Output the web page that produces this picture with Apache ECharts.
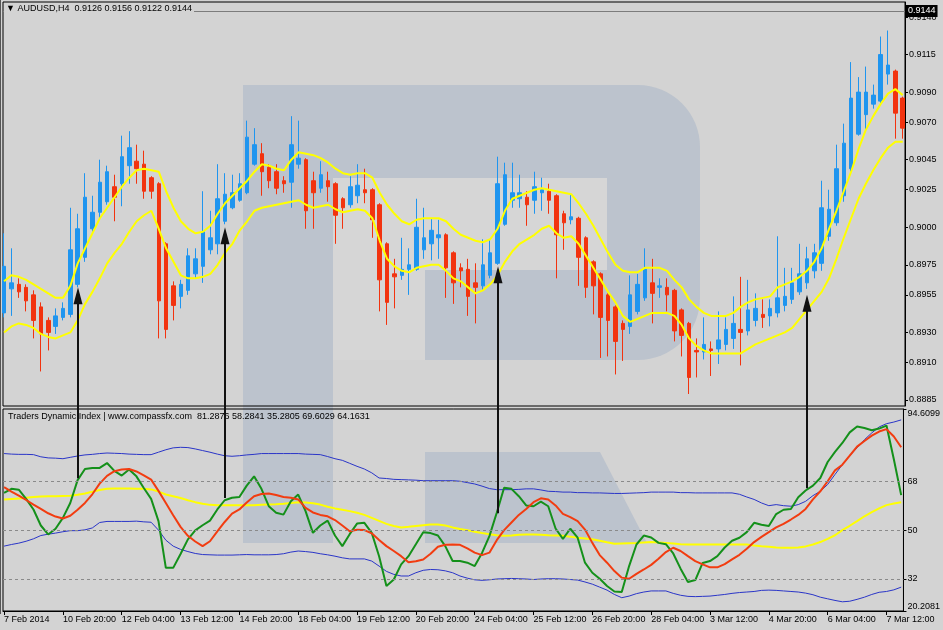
<!DOCTYPE html>
<html>
<head>
<meta charset="utf-8">
<script src="https://cdn.jsdelivr.net/npm/echarts@6/dist/echarts.min.js"></script>
<style>
  html, body { margin: 0; padding: 0; background: #d3d3d3; }
  #main { width: 943px; height: 630px; }
</style>
</head>
<body>
<div id="main"></div>
<script>
// AUDUSD H4 candles, bar 0 = 7 Feb 2014 12:00
const open = [
  0.8943, 0.8959, 0.8962, 0.8960, 0.8955, 0.8947, 0.8938, 0.8934, 0.8940, 0.8942,
  0.8962, 0.8980, 0.8999, 0.9010, 0.9017, 0.9027, 0.9029, 0.9041, 0.9044, 0.9042,
  0.9033, 0.9029, 0.8989, 0.8961, 0.8954, 0.8958, 0.8969, 0.8974, 0.8985, 0.8989,
  0.9004, 0.9013, 0.9018, 0.9023, 0.9042, 0.9049, 0.9040, 0.9037, 0.9031, 0.9030,
  0.9042, 0.9045, 0.9031, 0.9026, 0.9031, 0.9029, 0.9019, 0.9015, 0.9021, 0.9025,
  0.9025, 0.9015, 0.8989, 0.8969, 0.8968, 0.8972, 0.8972, 0.8985, 0.8989, 0.8993,
  0.8995, 0.8983, 0.8973, 0.8972, 0.8963, 0.8961, 0.8968, 0.8976, 0.9002, 0.9018,
  0.9019, 0.9020, 0.9018, 0.9023, 0.9024, 0.9021, 0.9009, 0.9005, 0.9006, 0.8993,
  0.8977, 0.8969, 0.8955, 0.8947, 0.8936, 0.8934, 0.8944, 0.8953, 0.8963, 0.8960,
  0.8960, 0.8958, 0.8945, 0.8936, 0.8918, 0.8917, 0.8919, 0.8919, 0.8922, 0.8926,
  0.8932, 0.8931, 0.8938, 0.8942, 0.8941, 0.8943, 0.8948, 0.8952, 0.8957, 0.8963,
  0.8971, 0.8976, 0.8994, 0.9003, 0.9021, 0.9039, 0.9062, 0.9075, 0.9082, 0.9084,
  0.9102, 0.9104, 0.9086
];
const high = [
  0.8996, 0.8986, 0.8966, 0.8962, 0.8958, 0.8950, 0.8940, 0.8946, 0.8950, 0.9013,
  0.9009, 0.9036, 0.9021, 0.9045, 0.9041, 0.9035, 0.9061, 0.9064, 0.9055, 0.9051,
  0.9034, 0.9030, 0.8990, 0.8964, 0.8965, 0.8986, 0.8986, 0.9024, 0.9011, 0.9042,
  0.9036, 0.9035, 0.9036, 0.9071, 0.9066, 0.9056, 0.9042, 0.9042, 0.9034, 0.9074,
  0.9071, 0.9046, 0.9037, 0.9044, 0.9037, 0.9030, 0.9020, 0.9034, 0.9042, 0.9039,
  0.9026, 0.9016, 0.8990, 0.8979, 0.8993, 0.8986, 0.9019, 0.9013, 0.9006, 0.9005,
  0.8996, 0.8984, 0.8976, 0.8979, 0.8976, 0.8992, 0.8992, 0.9047, 0.9043, 0.9043,
  0.9035, 0.9024, 0.9037, 0.9033, 0.9029, 0.9022, 0.9011, 0.9022, 0.9007, 0.8994,
  0.8978, 0.8970, 0.8956, 0.8948, 0.8938, 0.8968, 0.8969, 0.8986, 0.8979, 0.8966,
  0.8966, 0.8959, 0.8946, 0.8937, 0.8926, 0.8940, 0.8924, 0.8944, 0.8940, 0.8954,
  0.8967, 0.8965, 0.8956, 0.8952, 0.8952, 0.8994, 0.8973, 0.8973, 0.8989, 0.8987,
  0.8989, 0.9031, 0.9025, 0.9055, 0.9069, 0.9110, 0.9100, 0.9107, 0.9095, 0.9127,
  0.9131, 0.9105, 0.9087
];
const low = [
  0.8940, 0.8941, 0.8953, 0.8944, 0.8926, 0.8904, 0.8918, 0.8929, 0.8938, 0.8940,
  0.8960, 0.8977, 0.8997, 0.9006, 0.9015, 0.9004, 0.9014, 0.9029, 0.9029, 0.9019,
  0.9019, 0.8926, 0.8926, 0.8938, 0.8946, 0.8955, 0.8966, 0.8963, 0.8982, 0.8982,
  0.9002, 0.9012, 0.9017, 0.9022, 0.9041, 0.9021, 0.9026, 0.9022, 0.9023, 0.9013,
  0.9039, 0.8999, 0.8999, 0.9023, 0.9017, 0.8989, 0.8999, 0.9013, 0.9016, 0.9016,
  0.8993, 0.8944, 0.8935, 0.8946, 0.8965, 0.8955, 0.8971, 0.8979, 0.8978, 0.8979,
  0.8953, 0.8949, 0.8960, 0.8941, 0.8936, 0.8958, 0.8966, 0.8975, 0.9001, 0.9013,
  0.9013, 0.9001, 0.9009, 0.9011, 0.9009, 0.8966, 0.8985, 0.9002, 0.8961, 0.8953,
  0.8942, 0.8913, 0.8914, 0.8902, 0.8911, 0.8929, 0.8942, 0.8951, 0.8936, 0.8953,
  0.8944, 0.8924, 0.8914, 0.8889, 0.8900, 0.8912, 0.8901, 0.8909, 0.8918, 0.8919,
  0.8908, 0.8928, 0.8934, 0.8933, 0.8934, 0.8940, 0.8944, 0.8949, 0.8955, 0.8959,
  0.8966, 0.8971, 0.8991, 0.9001, 0.9017, 0.9035, 0.9061, 0.9065, 0.9079, 0.9082,
  0.9095, 0.9059, 0.9059
];
const close = [
  0.8974, 0.8963, 0.8957, 0.8951, 0.8938, 0.8929, 0.8930, 0.8941, 0.8946, 0.8985,
  0.8999, 0.9020, 0.9010, 0.9030, 0.9037, 0.9020, 0.9047, 0.9053, 0.9039, 0.9024,
  0.9024, 0.8951, 0.8932, 0.8948, 0.8962, 0.8981, 0.8979, 0.8997, 0.8993, 0.9019,
  0.9022, 0.9023, 0.9029, 0.9060, 0.9055, 0.9037, 0.9031, 0.9026, 0.9029, 0.9055,
  0.9046, 0.9011, 0.9023, 0.9035, 0.9027, 0.9008, 0.9013, 0.9027, 0.9028, 0.9023,
  0.9005, 0.8965, 0.8950, 0.8967, 0.8972, 0.8975, 0.9000, 0.8993, 0.8998, 0.8995,
  0.8973, 0.8963, 0.8971, 0.8954, 0.8960, 0.8975, 0.8983, 0.9029, 0.9035, 0.9023,
  0.9023, 0.9015, 0.9027, 0.9025, 0.9018, 0.8995, 0.9003, 0.9007, 0.8980, 0.8960,
  0.8961, 0.8940, 0.8938, 0.8924, 0.8932, 0.8955, 0.8962, 0.8972, 0.8956, 0.8961,
  0.8955, 0.8931, 0.8928, 0.8900, 0.8917, 0.8922, 0.8918, 0.8925, 0.8932, 0.8936,
  0.8930, 0.8945, 0.8946, 0.8940, 0.8946, 0.8953, 0.8954, 0.8963, 0.8969, 0.8979,
  0.8983, 0.9013, 0.9012, 0.9039, 0.9056, 0.9086, 0.9090, 0.9090, 0.9088, 0.9115,
  0.9108, 0.9076, 0.9066
];
// yellow channel on price
const bandUpper = [
  0.8964, 0.8968, 0.8967, 0.8965, 0.8962, 0.8959, 0.8956, 0.8953, 0.8953, 0.8961,
  0.8976, 0.8986, 0.8996, 0.9006, 0.9013, 0.9020, 0.9027, 0.9033, 0.9038, 0.9039,
  0.9038, 0.9037, 0.9024, 0.9013, 0.9004, 0.8999, 0.8996, 0.8997, 0.9001, 0.9009,
  0.9016, 0.9021, 0.9026, 0.9031, 0.9037, 0.9042, 0.9041, 0.9039, 0.9038, 0.9045,
  0.9050, 0.9049, 0.9048, 0.9046, 0.9043, 0.9039, 0.9036, 0.9035, 0.9036, 0.9036,
  0.9033, 0.9023, 0.9015, 0.9009, 0.9004, 0.9002, 0.9005, 0.9006, 0.9006, 0.9006,
  0.9004, 0.8999, 0.8995, 0.8993, 0.8991, 0.8990, 0.8992, 0.8999, 0.9011, 0.9019,
  0.9021, 0.9023, 0.9025, 0.9026, 0.9025, 0.9024, 0.9023, 0.9022, 0.9016, 0.9009,
  0.9001, 0.8992, 0.8983, 0.8975, 0.8971, 0.8970, 0.8970, 0.8973, 0.8973, 0.8973,
  0.8971, 0.8965, 0.8960, 0.8952, 0.8947, 0.8943, 0.8941, 0.8941, 0.8941, 0.8943,
  0.8947, 0.8950, 0.8952, 0.8953, 0.8954, 0.8960, 0.8962, 0.8964, 0.8967, 0.8971,
  0.8977, 0.8986, 0.8999, 0.9011, 0.9024, 0.9037, 0.9052, 0.9065, 0.9074, 0.9082,
  0.9089, 0.9092, 0.9088
];
const bandLower = [
  0.8930, 0.8934, 0.8936, 0.8935, 0.8933, 0.8929, 0.8927, 0.8926, 0.8928, 0.8930,
  0.8938, 0.8949, 0.8957, 0.8966, 0.8976, 0.8983, 0.8989, 0.8997, 0.9004, 0.9008,
  0.9011, 0.8999, 0.8986, 0.8977, 0.8968, 0.8966, 0.8966, 0.8967, 0.8969, 0.8975,
  0.8983, 0.8989, 0.8998, 0.9004, 0.9011, 0.9013, 0.9014, 0.9015, 0.9016, 0.9017,
  0.9018, 0.9015, 0.9013, 0.9014, 0.9015, 0.9012, 0.9010, 0.9011, 0.9012, 0.9011,
  0.9006, 0.8991, 0.8979, 0.8974, 0.8971, 0.8970, 0.8973, 0.8974, 0.8975, 0.8975,
  0.8971, 0.8966, 0.8964, 0.8960, 0.8956, 0.8958, 0.8962, 0.8968, 0.8977, 0.8984,
  0.8989, 0.8992, 0.8995, 0.8999, 0.9001, 0.8996, 0.8993, 0.8994, 0.8989, 0.8981,
  0.8973, 0.8965, 0.8957, 0.8950, 0.8941, 0.8937, 0.8939, 0.8941, 0.8943, 0.8943,
  0.8943, 0.8941, 0.8935, 0.8926, 0.8921, 0.8918, 0.8916, 0.8916, 0.8916, 0.8916,
  0.8916, 0.8919, 0.8922, 0.8924, 0.8926, 0.8928, 0.8930, 0.8933, 0.8939, 0.8945,
  0.8951, 0.8957, 0.8966, 0.8979, 0.8993, 0.9006, 0.9019, 0.9029, 0.9038, 0.9046,
  0.9053, 0.9057, 0.9057
];
// Traders Dynamic Index
const tdiUpper = [
  78.2, 78.0, 77.9, 77.9, 77.8, 77.0, 76.6, 76.5, 76.3, 76.8,
  77.3, 77.7, 77.9, 78.2, 78.4, 78.3, 78.2, 78.0, 77.9, 77.8,
  77.8, 78.7, 79.6, 80.3, 80.5, 80.4, 79.9, 79.3, 78.7, 78.0,
  77.4, 77.2, 77.4, 77.7, 77.9, 78.2, 78.2, 78.2, 78.2, 78.2,
  78.2, 78.0, 77.9, 77.8, 77.1, 76.3, 75.7, 74.6, 73.5, 72.5,
  71.1, 69.2, 69.0, 68.7, 68.6, 68.5, 68.4, 68.2, 68.2, 68.2,
  68.2, 68.2, 68.0, 67.5, 67.0, 66.2, 65.3, 64.9, 64.9, 64.9,
  65.0, 65.2, 65.2, 64.8, 64.3, 64.2, 64.0, 64.0, 63.8, 63.8,
  63.7, 63.7, 63.6, 63.5, 63.5, 63.6, 63.7, 63.8, 64.0, 64.0,
  64.0, 64.0, 63.8, 63.8, 63.7, 63.7, 63.7, 63.7, 63.7, 63.7,
  63.2, 62.2, 61.3, 60.0, 59.0, 59.4, 59.0, 58.8, 59.4, 60.6,
  62.7, 64.3, 66.8, 70.5, 74.1, 77.4, 80.3, 83.3, 85.8, 88.0,
  89.2, 89.8, 90.6
];
const tdiMiddle = [
  61.3, 61.5, 61.6, 61.9, 62.2, 62.4, 62.5, 62.5, 62.6, 62.7,
  63.0, 63.5, 64.1, 64.8, 65.2, 65.3, 65.3, 65.3, 65.2, 65.2,
  65.0, 64.2, 63.1, 62.5, 61.8, 61.0, 60.3, 59.7, 59.3, 59.2,
  59.2, 59.2, 59.2, 59.2, 59.2, 59.3, 59.4, 59.5, 59.7, 60.0,
  60.3, 60.2, 59.9, 59.4, 58.6, 58.0, 57.5, 57.0, 56.4, 55.6,
  54.5, 53.4, 52.3, 51.5, 51.0, 51.2, 51.5, 51.8, 52.1, 52.1,
  51.7, 51.0, 50.4, 50.0, 49.4, 48.9, 48.5, 48.1, 47.9, 48.0,
  48.3, 48.4, 48.4, 48.3, 48.1, 48.0, 47.9, 47.6, 47.2, 46.9,
  46.6, 46.1, 45.5, 45.0, 45.1, 45.2, 45.3, 45.45, 45.6, 45.45,
  45.3, 45.1, 44.8, 44.7, 44.7, 44.7, 44.7, 44.7, 44.7, 44.7,
  44.7, 44.7, 44.35, 44.1, 43.9, 43.6, 43.5, 43.5, 43.6, 44.0,
  44.7, 45.6, 46.8, 48.1, 50.0, 51.6, 53.3, 55.1, 56.6, 58.0,
  59.2, 59.8, 60.3
];
const tdiLower = [
  44.1, 44.7, 45.2, 45.9, 46.8, 48.0, 48.5, 48.9, 49.4, 49.8,
  49.8, 50.1, 50.8, 52.8, 53.2, 53.2, 53.2, 53.2, 53.3, 53.05,
  52.9, 50.0, 46.3, 44.1, 42.9, 42.1, 41.4, 41.0, 40.9, 40.8,
  40.8, 40.8, 40.9, 41.0, 40.9, 40.9, 40.9, 41.0, 41.3, 41.9,
  42.3, 42.1, 41.8, 41.3, 40.9, 40.4, 39.8, 39.4, 39.4, 39.4,
  38.6, 36.75, 34.8, 33.7, 33.1, 33.1, 34.3, 35.2, 35.5, 35.4,
  35.0, 34.3, 33.1, 32.3, 31.7, 31.5, 31.7, 32.0, 32.1, 32.2,
  32.1, 32.0, 31.8, 32.0, 32.1, 32.1, 32.0, 31.8, 31.6, 30.9,
  30.1, 29.0, 27.9, 26.3, 25.1, 25.7, 26.6, 27.2, 27.6, 27.6,
  27.6, 26.7, 26.0, 25.6, 25.5, 25.6, 25.7, 26.0, 26.3, 26.7,
  27.0, 27.2, 27.4, 27.8, 27.9, 27.8, 27.6, 27.4, 27.2, 26.8,
  26.2, 25.3, 24.7, 24.1, 23.6, 23.8, 24.5, 25.3, 26.3, 27.1,
  27.4, 28.0, 29.0
];
const rsiPrice = [
  63.7, 65.2, 64.9, 61.5, 57.6, 51.7, 48.4, 50.5, 54.5, 60.0,
  68.4, 72.5, 72.9, 72.9, 74.7, 71.8, 70.1, 72.3, 69.8, 65.5,
  61.5, 53.3, 36.1, 36.1, 41.2, 46.6, 49.9, 51.8, 53.5, 57.6,
  61.0, 61.9, 62.2, 66.4, 69.8, 65.2, 58.8, 56.4, 55.7, 60.6,
  63.1, 57.0, 49.0, 51.7, 53.5, 48.0, 44.1, 48.5, 52.4, 52.7,
  49.0, 40.4, 29.4, 31.8, 37.4, 40.4, 44.8, 49.25, 48.9, 48.0,
  44.1, 38.6, 38.6, 38.0, 36.75, 41.6, 47.8, 56.4, 65.6, 65.2,
  62.5, 59.1, 58.8, 60.5, 58.8, 50.6, 46.8, 50.5, 47.2, 38.0,
  34.3, 32.1, 29.4, 27.4, 27.2, 36.75, 44.7, 48.0, 47.3, 45.3,
  44.8, 41.4, 35.8, 30.9, 31.6, 37.9, 38.6, 40.4, 43.6, 46.1,
  47.2, 49.25, 52.7, 51.95, 51.5, 55.9, 57.5, 57.8, 62.1, 64.6,
  66.4, 69.2, 75.1, 78.8, 82.1, 86.0, 88.2, 87.6, 86.8, 87.4,
  88.5, 76.1, 62.9
];
const tradeSignal = [
  65.8, 64.2, 62.7, 61.1, 59.4, 57.8, 56.2, 55.0, 54.3, 55.3,
  57.5, 60.0, 63.2, 67.1, 70.0, 71.7, 72.3, 72.5, 71.6, 70.2,
  68.6, 64.45, 60.0, 55.5, 51.2, 47.9, 45.8, 44.1, 45.9, 49.5,
  53.0, 56.1, 57.6, 60.2, 62.5, 63.3, 63.5, 62.9, 62.2, 61.9,
  61.3, 58.2, 56.5, 55.6, 55.1, 53.7, 51.7, 49.6, 50.1, 50.0,
  48.8, 46.4, 44.1, 42.3, 40.4, 38.2, 38.5, 39.2, 41.3, 43.9,
  44.6, 44.7, 44.6, 43.25, 41.7, 40.8, 41.7, 46.3, 50.0, 52.8,
  55.6, 57.8, 60.3, 61.7, 61.3, 59.1, 56.0, 54.8, 53.3, 50.2,
  45.3, 40.8, 38.0, 34.9, 32.5, 32.1, 33.9, 35.5, 37.2, 39.45,
  41.9, 43.5, 42.3, 40.4, 38.6, 37.4, 36.3, 36.3, 37.5, 39.2,
  40.9, 43.1, 45.6, 47.5, 49.25, 51.0, 52.3, 53.9, 55.6, 57.8,
  61.3, 64.3, 68.0, 72.0, 74.1, 77.4, 80.75, 82.8, 84.8, 86.3,
  87.2, 84.5, 80.5
];
const timeBars = [0, 8, 16, 24, 32, 40, 48, 56, 64, 72, 80, 88, 96, 104, 112, 120];
const timeLabels = [
  '7 Feb 2014', '10 Feb 20:00', '12 Feb 04:00', '13 Feb 12:00', '14 Feb 20:00',
  '18 Feb 04:00', '19 Feb 12:00', '20 Feb 20:00', '24 Feb 04:00', '25 Feb 12:00',
  '26 Feb 20:00', '28 Feb 04:00', '3 Mar 12:00', '4 Mar 20:00', '6 Mar 04:00', '7 Mar 12:00'
];
const priceTicks = [0.8885, 0.8910, 0.8930, 0.8955, 0.8975, 0.9000, 0.9025, 0.9045, 0.9070, 0.9090, 0.9115, 0.9140];
const lastPrice = 0.9144;
const tdiTicks = [20.2081, 32, 50, 68, 94.6099];
const tdiLevels = [68, 50, 32];
// signal arrows: bar, price tip, TDI start
const arrowBars = [10, 30, 67, 109];
const arrowPrice = [0.8960, 0.9000, 0.8974, 0.8955];
const arrowTdi = [69.1, 61.8, 56.2, 65.4];

const font = "'Liberation Sans', Arial, sans-serif";
const bg = '#d3d3d3';
const wm = '#bcc3cd';
const xMin = -0.145, xMax = 122.31;

const candles = open.map((o, i) => [i, o, close[i], low[i], high[i]]);
const pts = arr => arr.map((v, i) => [i, v]);

function lineSeries(data, color, width, grid, extra) {
  return Object.assign({
    type: 'line', data: pts(data), xAxisIndex: grid, yAxisIndex: grid,
    showSymbol: false, symbol: 'none', silent: true,
    lineStyle: { color: color, width: width }
  }, extra || {});
}

const chart = echarts.init(document.getElementById('main'));

const axisText = { color: '#000', fontSize: 9, fontFamily: font };

const option = {
  animation: false,
  backgroundColor: bg,
  textStyle: { fontFamily: font },
  grid: [
    { left: 3, right: 38, top: 2, height: 404, show: true, borderColor: '#000', borderWidth: 1, backgroundColor: 'transparent' },
    { left: 3, right: 38, top: 409, height: 202, show: true, borderColor: '#000', borderWidth: 1, backgroundColor: 'transparent' }
  ],
  xAxis: [
    { type: 'value', gridIndex: 0, min: xMin, max: xMax,
      axisLine: { show: false, onZero: false }, axisTick: { show: false }, axisLabel: { show: false }, splitLine: { show: false } },
    { type: 'value', gridIndex: 1, min: xMin, max: xMax,
      axisLine: { show: true, onZero: false, lineStyle: { color: '#000' } },
      axisTick: { show: true, customValues: timeBars, length: 4, lineStyle: { color: '#000' } },
      axisLabel: Object.assign({ customValues: timeBars, align: 'left', margin: 4,
        formatter: v => timeLabels[timeBars.indexOf(Math.round(v))] }, axisText),
      splitLine: { show: false } }
  ],
  yAxis: [
    { type: 'value', gridIndex: 0, position: 'right', min: 0.8881, max: 0.9150,
      axisLine: { show: true, onZero: false, lineStyle: { color: '#000' } },
      axisTick: { show: true, customValues: priceTicks, length: 3, lineStyle: { color: '#000' } },
      axisLabel: Object.assign({ customValues: priceTicks, margin: 4, formatter: v => v.toFixed(4) }, axisText),
      splitLine: { show: false } },
    { type: 'value', gridIndex: 1, position: 'right', min: 20.2081, max: 94.6099,
      axisLine: { show: true, onZero: false, lineStyle: { color: '#000' } },
      axisTick: { show: true, customValues: tdiTicks, length: 3, lineStyle: { color: '#000' } },
      axisLabel: Object.assign({ customValues: tdiTicks, margin: 4, formatter: v => String(v),
        verticalAlignMinLabel: 'bottom', verticalAlignMaxLabel: 'top' }, axisText),
      splitLine: { show: false } }
  ],
  series: [
    {
      type: 'candlestick', data: candles, xAxisIndex: 0, yAxisIndex: 0,
      barWidth: 4, silent: true,
      itemStyle: { color: '#1f95ef', color0: '#f2330f', borderColor: '#1f95ef', borderColor0: '#f2330f', borderWidth: 1 }
    },
    lineSeries(bandUpper, '#ffff00', 2, 0, {
      markLine: {
        silent: true, symbol: 'none', animation: false, precision: 4,
        data: [{ yAxis: lastPrice }],
        lineStyle: { color: '#7c7c7c', width: 1, type: 'solid' },
        label: { position: 'end', distance: 1, formatter: lastPrice.toFixed(4), color: '#fff', backgroundColor: '#000',
          padding: [2, 2, 1, 2], fontSize: 9, fontFamily: font }
      }
    }),
    lineSeries(bandLower, '#ffff00', 2, 0),
    lineSeries(tdiUpper, '#2a35c8', 1, 1, {
      markLine: {
        silent: true, symbol: 'none', animation: false, label: { show: false },
        lineStyle: { color: '#8a8a8a', width: 1, type: [3, 3] },
        data: tdiLevels.map(v => ({ yAxis: v }))
      }
    }),
    lineSeries(tdiLower, '#2a35c8', 1, 1),
    lineSeries(tdiMiddle, '#ffff00', 2, 1),
    lineSeries(rsiPrice, '#14901a', 2, 1),
    lineSeries(tradeSignal, '#f23c10', 2, 1)
  ]
};
chart.setOption(option);

// background logo, headers and arrows
const graphics = [
  { id: 'wm-bowl', type: 'rect', z: -10, silent: true, shape: { x: 243, y: 85, width: 457, height: 275, r: [0, 62, 62, 0] }, style: { fill: wm } },
  { id: 'wm-stem', type: 'rect', z: -10, silent: true, shape: { x: 243, y: 85, width: 90, height: 458 }, style: { fill: wm } },
  { id: 'wm-hole', type: 'rect', z: -9, silent: true, shape: { x: 333, y: 178, width: 274, height: 182 }, style: { fill: '#d6d6d6' } },
  { id: 'wm-bar', type: 'rect', z: -8, silent: true, shape: { x: 425, y: 270, width: 182, height: 90 }, style: { fill: wm } },
  { id: 'wm-leg', type: 'polygon', z: -8, silent: true, shape: { points: [[425, 452], [600, 452], [647, 543], [425, 543]] }, style: { fill: wm } },
  { id: 'edge', type: 'line', z: 5, silent: true, shape: { x1: 0.5, y1: 0, x2: 0.5, y2: 614 }, style: { stroke: '#555', lineWidth: 1 } },
  { id: 'hdr-top', type: 'text', z: 60, silent: true, left: 4, top: 3,
    style: { text: '▼ AUDUSD,H4  0.9126 0.9156 0.9122 0.9144', font: '9px ' + font, fill: '#000', backgroundColor: bg, padding: [1, 2, 1, 2] } },
  { id: 'hdr-tdi', type: 'text', z: 60, silent: true, left: 8, top: 412,
    style: { text: 'Traders Dynamic Index | www.compassfx.com  81.2876 58.2841 35.2805 69.6029 64.1631', font: '9px ' + font, fill: '#000' } }
];
arrowBars.forEach((b, k) => {
  const tip = chart.convertToPixel({ gridIndex: 0 }, [b, arrowPrice[k]]);
  const base = chart.convertToPixel({ gridIndex: 1 }, [b, arrowTdi[k]]);
  const x = Math.round(tip[0]);
  graphics.push({ id: 'arrow-line-' + k, type: 'line', z: 70, silent: true,
    shape: { x1: x, y1: tip[1] + 12, x2: x, y2: base[1] }, style: { stroke: '#111', lineWidth: 2 } });
  graphics.push({ id: 'arrow-head-' + k, type: 'polygon', z: 70, silent: true,
    shape: { points: [[x, tip[1]], [x - 4.5, tip[1] + 17], [x + 4.5, tip[1] + 17]] }, style: { fill: '#111' } });
});
chart.setOption({ graphic: graphics });
</script>
</body>
</html>
